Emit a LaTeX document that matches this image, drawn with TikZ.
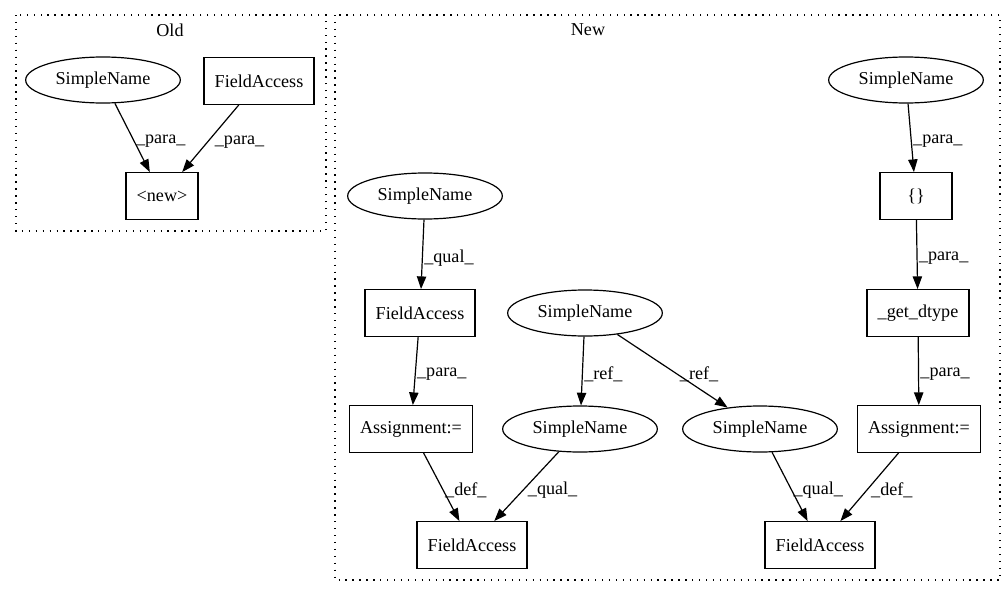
\documentclass[tikz,border=0pt]{standalone}
\usepackage{fontspec}
\setmainfont{Liberation Serif}
\usepackage{tikz}
\usetikzlibrary{arrows.meta}
\usetikzlibrary{shapes}
\tikzstyle{cluster}=[draw, line width=0.8pt, dash pattern=on 1pt off 4.2pt]
\tikzstyle{namenode}=[draw, ellipse, line width=0.9pt, minimum width=116pt, minimum height=34.5pt, inner sep=0pt]
\tikzstyle{boxnode}=[draw, rectangle, line width=0.9pt, minimum width=54pt, minimum height=35pt, inner xsep=8pt]
\tikzstyle{flow}=[line width=0.9pt, -{Triangle[length=9.5pt,width=7pt]}]
\tikzstyle{edgelabel}=[anchor=west, inner sep=1pt]

\begin{document}
\begin{tikzpicture}[x=0.75pt, y=-0.75pt, font=\fontsize{13.6}{16}\selectfont]
	\useasboundingbox (0,0) rectangle (1007,596);
	% clusters
	\draw[cluster] (16,15) rectangle (326,231);
	\node at (170,30) {Old};
	\draw[cluster] (335,15) rectangle (1000,580);
	\node at (588,30) {New};
	% old
	\node[namenode] (oldname) at (103,80) {SimpleName};
	\node[boxnode] (oldfield) at (259,81) {FieldAccess};
	\node[boxnode] (oldnew) at (162,196) {<new>};
	\draw[flow] (oldname) -- node[edgelabel, pos=.55]{\_para\_} (oldnew);
	\draw[flow] (oldfield) -- node[edgelabel, pos=.55, xshift=4pt]{\_para\_} (oldnew);
	% new
	\node[namenode] (newname) at (906,80) {SimpleName};
	\node[boxnode] (braces) at (916,196) {\{\}};
	\node[boxnode] (getdtype) at (918,313) {\_get\_dtype};
	\node[boxnode] (assignr) at (919,429) {Assignment:=};
	\node[namenode] (qualname) at (425,196) {SimpleName};
	\node[boxnode] (qualfield) at (420,313) {FieldAccess};
	\node[boxnode] (assignl) at (411,429) {Assignment:=};
	\node[namenode] (refname) at (585,313) {SimpleName};
	\node[namenode] (refleft) at (580,429) {SimpleName};
	\node[namenode] (refright) at (760,429) {SimpleName};
	\node[boxnode] (fieldl) at (472,545) {FieldAccess};
	\node[boxnode] (fieldr) at (820,545) {FieldAccess};
	\draw[flow] (newname) -- node[edgelabel, pos=.55]{\_para\_} (braces);
	\draw[flow] (braces) -- node[edgelabel, pos=.55]{\_para\_} (getdtype);
	\draw[flow] (getdtype) -- node[edgelabel, pos=.55]{\_para\_} (assignr);
	\draw[flow] (qualname) -- node[edgelabel, pos=.55]{\_qual\_} (qualfield);
	\draw[flow] (qualfield) -- node[edgelabel, pos=.55]{\_para\_} (assignl);
	\draw[flow] (refname) -- node[edgelabel, pos=.55]{\_ref\_} (refleft);
	\draw[flow] (refname) -- node[edgelabel, pos=.55]{\_ref\_} (refright);
	\draw[flow] (assignl) -- node[edgelabel, pos=.55]{\_def\_} (fieldl);
	\draw[flow] (refleft) -- node[edgelabel, pos=.55, xshift=2pt]{\_qual\_} (fieldl);
	\draw[flow] (refright) -- node[edgelabel, pos=.55]{\_qual\_} (fieldr);
	\draw[flow] (assignr) -- node[edgelabel, pos=.55, xshift=2pt]{\_def\_} (fieldr);
\end{tikzpicture}
\end{document}
